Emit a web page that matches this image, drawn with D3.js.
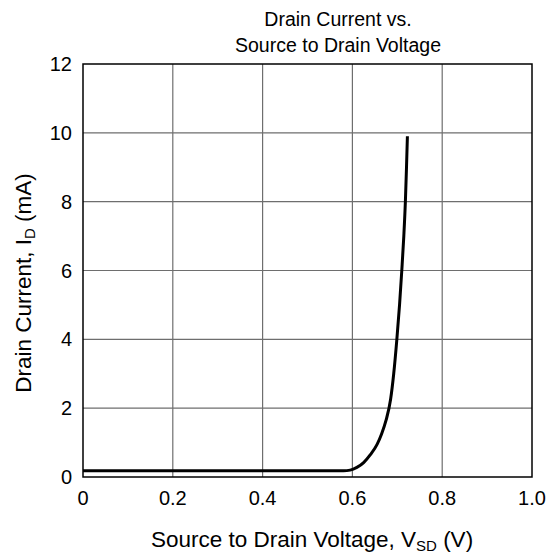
<!DOCTYPE html>
<html><head><meta charset="utf-8">
<script src="https://cdn.jsdelivr.net/npm/d3@7"></script>
<style>body{margin:0;background:#fff}svg{display:block;font-family:"Liberation Sans",Arial,sans-serif}</style>
</head><body>
<svg id="c" width="556" height="556"></svg>
<script>
const xTicks = [0, 0.2, 0.4, 0.6, 0.8, 1.0];
const yTicks = [0, 2, 4, 6, 8, 10, 12];
const vsd = [0, 0.58, 0.595, 0.61, 0.625, 0.64, 0.655, 0.665, 0.675, 0.685, 0.692, 0.699, 0.705, 0.710, 0.7145, 0.718, 0.7205, 0.7225];
const idmA = [0.18, 0.18, 0.2, 0.28, 0.42, 0.65, 0.95, 1.25, 1.65, 2.25, 3.0, 4.0, 5.0, 6.0, 7.0, 8.0, 9.0, 9.9];

const L = 83, R = 532, T = 64, B = 477;
const svg = d3.select("#c");
const x = d3.scaleLinear().domain([0, 1]).range([L, R]);
const y = d3.scaleLinear().domain([0, 12]).range([B, T]);

// grid
svg.append("g").selectAll("line").data(xTicks.slice(1, -1)).join("line")
  .attr("x1", d => x(d)).attr("x2", d => x(d)).attr("y1", T).attr("y2", B)
  .attr("stroke", "#6e6e6e").attr("stroke-width", 1.2);
svg.append("g").selectAll("line").data(yTicks.slice(1, -1)).join("line")
  .attr("y1", d => y(d)).attr("y2", d => y(d)).attr("x1", L).attr("x2", R)
  .attr("stroke", "#6e6e6e").attr("stroke-width", 1.2);

// curve
svg.append("path").datum(vsd.map((v, i) => [v, idmA[i]]))
  .attr("d", d3.line().x(d => x(d[0])).y(d => y(d[1])).curve(d3.curveMonotoneX))
  .attr("fill", "none").attr("stroke", "#000").attr("stroke-width", 3);

// border
svg.append("rect").attr("x", L).attr("y", T).attr("width", R - L).attr("height", B - T)
  .attr("fill", "none").attr("stroke", "#000").attr("stroke-width", 1.5);

// tick labels
svg.append("g").selectAll("text").data(xTicks).join("text")
  .attr("x", d => x(d)).attr("y", B + 28).attr("text-anchor", "middle")
  .attr("font-size", 20).text(d => d3.format(".1f")(d).replace(/^0\.0$/, "0"));
svg.append("g").selectAll("text").data(yTicks).join("text")
  .attr("x", L - 11).attr("y", d => y(d) + 7).attr("text-anchor", "end")
  .attr("font-size", 20).text(d => d);

// title
const t = svg.append("text").attr("x", 338).attr("text-anchor", "middle").attr("font-size", 19.5);
t.append("tspan").attr("x", 338).attr("y", 26).text("Drain Current vs.");
t.append("tspan").attr("x", 338).attr("y", 52).text("Source to Drain Voltage");

// x title
const xt = svg.append("text").attr("x", 312).attr("y", 547).attr("text-anchor", "middle").attr("font-size", 22.5);
xt.append("tspan").text("Source to Drain Voltage, V");
xt.append("tspan").attr("font-size", 15).attr("dy", 4).text("SD");
xt.append("tspan").attr("dy", -4).text(" (V)");

// y title
const yt = svg.append("text").attr("transform", "translate(31,283) rotate(-90)").attr("text-anchor", "middle").attr("font-size", 22.5);
yt.append("tspan").text("Drain Current, I");
yt.append("tspan").attr("font-size", 15).attr("dy", 4).text("D");
yt.append("tspan").attr("dy", -4).text(" (mA)");
</script>
</body></html>
